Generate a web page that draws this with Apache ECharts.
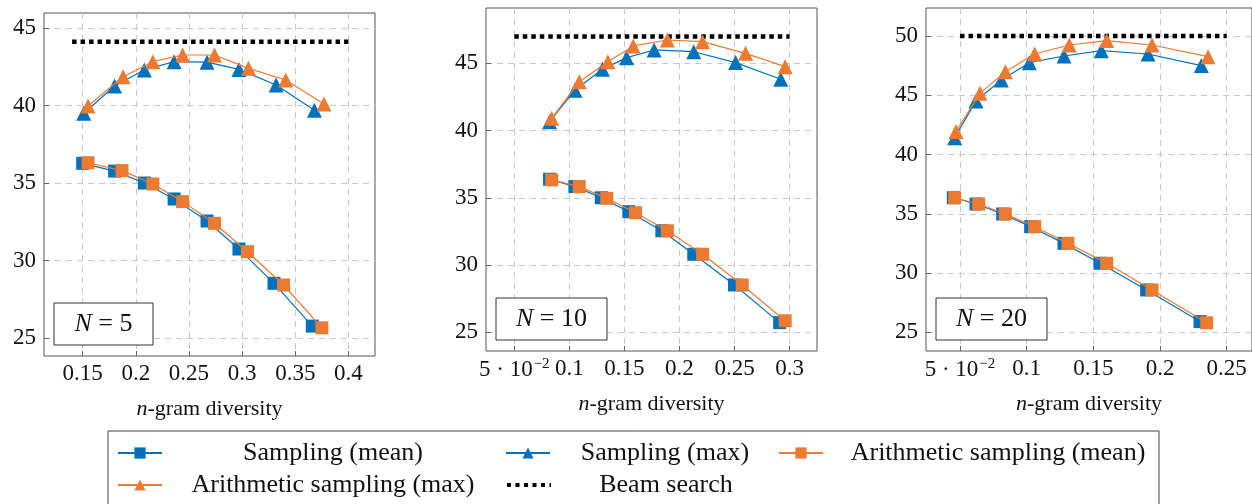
<!DOCTYPE html>
<html>
<head>
<meta charset="utf-8">
<script src="https://cdn.jsdelivr.net/npm/echarts@6/dist/echarts.min.js"></script>
<style>
  html, body { margin: 0; padding: 0; background: #fff; }
  #main { width: 1252px; height: 504px; }
</style>
</head>
<body>
<div id="main"></div>
<script>
// values: [n-gram diversity, score]
const n5SampMean = [[0.150, 36.27], [0.180, 35.77], [0.208, 35.0], [0.236, 33.97], [0.267, 32.55], [0.297, 30.74], [0.330, 28.53], [0.366, 25.77]];
const n5SampMax = [[0.151, 39.5], [0.180, 41.26], [0.208, 42.29], [0.236, 42.83], [0.267, 42.8], [0.297, 42.33], [0.332, 41.32], [0.368, 39.7]];
const n5ArithMean = [[0.155, 36.31], [0.187, 35.8], [0.216, 34.94], [0.244, 33.8], [0.274, 32.4], [0.305, 30.57], [0.339, 28.42], [0.375, 25.66]];
const n5ArithMax = [[0.155, 39.97], [0.188, 41.86], [0.216, 42.83], [0.244, 43.26], [0.274, 43.26], [0.306, 42.4], [0.341, 41.65], [0.377, 40.1]];
const n5Beam = [[0.14, 44.12], [0.4, 44.12]];

const n10SampMean = [[0.082, 36.38], [0.105, 35.83], [0.129, 35.0], [0.154, 33.97], [0.184, 32.55], [0.213, 30.8], [0.250, 28.52], [0.291, 25.72]];
const n10SampMax = [[0.082, 40.66], [0.105, 43.0], [0.130, 44.55], [0.152, 45.42], [0.177, 45.99], [0.213, 45.86], [0.251, 45.05], [0.292, 43.81]];
const n10ArithMean = [[0.084, 36.33], [0.109, 35.83], [0.134, 34.96], [0.160, 33.89], [0.189, 32.55], [0.221, 30.8], [0.257, 28.52], [0.296, 25.86]];
const n10ArithMax = [[0.084, 40.91], [0.109, 43.63], [0.135, 45.12], [0.158, 46.29], [0.189, 46.73], [0.221, 46.61], [0.260, 45.74], [0.296, 44.75]];
const n10Beam = [[0.05, 47.0], [0.3, 47.0]];

const n20SampMean = [[0.045, 36.35], [0.062, 35.82], [0.082, 34.98], [0.103, 33.91], [0.128, 32.5], [0.155, 30.82], [0.190, 28.57], [0.230, 25.9]];
const n20SampMax = [[0.046, 41.42], [0.062, 44.51], [0.081, 46.29], [0.102, 47.75], [0.128, 48.31], [0.156, 48.76], [0.191, 48.48], [0.231, 47.5]];
const n20ArithMean = [[0.046, 36.35], [0.064, 35.82], [0.084, 34.98], [0.106, 33.91], [0.131, 32.5], [0.160, 30.82], [0.194, 28.57], [0.235, 25.8]];
const n20ArithMax = [[0.047, 41.93], [0.065, 45.16], [0.084, 46.99], [0.106, 48.48], [0.132, 49.24], [0.160, 49.61], [0.194, 49.24], [0.236, 48.25]];
const n20Beam = [[0.05, 50.0], [0.25, 50.0]];

// tick labels
const n5XTicks = [0.15, 0.2, 0.25, 0.3, 0.35, 0.4];
const n10XTicks = [0.05, 0.1, 0.15, 0.2, 0.25, 0.3];
const n20XTicks = [0.05, 0.1, 0.15, 0.2, 0.25];
const n5YTicks = [25, 30, 35, 40, 45];
const n10YTicks = [25, 30, 35, 40, 45];
const n20YTicks = [25, 30, 35, 40, 45, 50];

const panelNames = ['5', '10', '20'];
const seriesNames = ['Sampling (mean)', 'Sampling (max)', 'Arithmetic sampling (mean)', 'Arithmetic sampling (max)', 'Beam search'];

const BLUE = '#0072BD';
const ORANGE = '#EC7A31';
const FONT = 'Liberation Serif';

const panels = [
  { grid: { left: 44, top: 13, width: 331, height: 343 }, x: [0.1136, 0.425], y: [23.84, 45.97],
    xt: n5XTicks, yt: n5YTicks, data: [n5SampMean, n5SampMax, n5ArithMean, n5ArithMax, n5Beam],
    box: [54, 303, 99, 42] },
  { grid: { left: 486, top: 8, width: 331, height: 343 }, x: [0.0243, 0.3249], y: [23.61, 49.11],
    xt: n10XTicks, yt: n10YTicks, data: [n10SampMean, n10SampMax, n10ArithMean, n10ArithMax, n10Beam],
    box: [496, 298, 111, 42] },
  { grid: { left: 926, top: 8, width: 330, height: 343 }, x: [0.0245, 0.269], y: [23.42, 52.36],
    xt: n20XTicks, yt: n20YTicks, data: [n20SampMean, n20SampMax, n20ArithMean, n20ArithMax, n20Beam],
    box: [936, 298, 111, 42] }
];

const grids = [], xAxes = [], yAxes = [], series = [], graphics = [];

const xFmt = v => Math.abs(v - 0.05) < 1e-9 ? '5 · 10{sup|−2}' : String(+v.toFixed(3));

panels.forEach((p, i) => {
  grids.push(Object.assign({ show: true, borderColor: '#555', borderWidth: 1, backgroundColor: 'transparent' }, p.grid));
  xAxes.push({
    type: 'value', gridIndex: i, min: p.x[0], max: p.x[1],
    name: '{i|n}-gram diversity', nameLocation: 'middle', nameGap: 42,
    nameTextStyle: { fontFamily: FONT, fontSize: 22, color: '#111',
      rich: { i: { fontFamily: FONT, fontSize: 22, fontStyle: 'italic', color: '#111' } } },
    axisLine: { show: false },
    axisTick: { inside: true, length: 5, lineStyle: { color: '#666' }, customValues: p.xt },
    axisLabel: { customValues: p.xt, formatter: xFmt, margin: 6, fontFamily: FONT, fontSize: 23, color: '#111',
      rich: { sup: { fontFamily: FONT, fontSize: 15, verticalAlign: 'top', padding: [0, 0, 10, 1], color: '#111' } } },
    splitLine: { show: true, lineStyle: { color: '#c8c8c8', width: 1, type: [6, 5] } }
  });
  yAxes.push({
    type: 'value', gridIndex: i, min: p.y[0], max: p.y[1],
    axisLine: { show: false },
    axisTick: { inside: true, length: 5, lineStyle: { color: '#666' }, customValues: p.yt },
    axisLabel: { customValues: p.yt, margin: 8, fontFamily: FONT, fontSize: 23, color: '#111' },
    splitLine: { show: true, lineStyle: { color: '#c8c8c8', width: 1, type: [6, 5] } }
  });
  const styles = [
    { color: BLUE, symbol: 'rect', size: 13 },
    { color: BLUE, symbol: 'triangle', size: 15 },
    { color: ORANGE, symbol: 'rect', size: 13 },
    { color: ORANGE, symbol: 'triangle', size: 15 }
  ];
  styles.forEach((s, k) => {
    series.push({
      name: seriesNames[k], type: 'line', xAxisIndex: i, yAxisIndex: i,
      data: p.data[k], symbol: s.symbol, symbolSize: s.size, showSymbol: true,
      lineStyle: { color: s.color, width: 1.2 }, itemStyle: { color: s.color },
      emphasis: { disabled: true }, z: 2 + k
    });
  });
  series.push({
    name: seriesNames[4], type: 'line', xAxisIndex: i, yAxisIndex: i,
    data: p.data[4], symbol: 'none',
    lineStyle: { color: '#000', width: 4.5, type: [4.5, 4], cap: 'butt' },
    itemStyle: { color: '#000' }, emphasis: { disabled: true }, z: 1
  });
  const b = p.box;
  graphics.push({
    type: 'rect', shape: { x: b[0], y: b[1], width: b[2], height: b[3] },
    style: { fill: '#fff', stroke: '#333', lineWidth: 1 }, z: 10
  });
  graphics.push({
    type: 'text', x: b[0] + b[2] / 2, y: b[1] + b[3] / 2, z: 11,
    style: {
      text: '{i|N} = ' + panelNames[i],
      align: 'center', verticalAlign: 'middle',
      fontFamily: FONT, fontSize: 26, fill: '#111',
      rich: { i: { fontFamily: FONT, fontSize: 26, fontStyle: 'italic', fill: '#111' } }
    }
  });
});

// legend frame
graphics.push({
  type: 'rect', shape: { x: 108, y: 431, width: 1051, height: 80 },
  style: { fill: '#fff', stroke: '#444', lineWidth: 1 }, z: 0
});

const legendSlots = [
  { name: seriesNames[0], left: 117, top: 440, w: 332 },
  { name: seriesNames[1], left: 505, top: 440, w: 220 },
  { name: seriesNames[2], left: 778, top: 440, w: 340 },
  { name: seriesNames[3], left: 117, top: 472, w: 332 },
  { name: seriesNames[4], left: 505, top: 472, w: 220, dotted: true }
];
const legends = legendSlots.map(s => ({
  data: [s.dotted
    ? { name: s.name, itemStyle: { opacity: 0 }, lineStyle: { width: 4, type: [4, 4.5], cap: 'butt', color: '#000' } }
    : s.name],
  left: s.left, top: s.top, padding: 0,
  itemWidth: 44, itemHeight: 14, selectedMode: false, z: 5,
  formatter: n => '{t|' + n + '}',
  textStyle: { fontFamily: FONT, fontSize: 26, color: '#111',
    rich: { t: { width: s.w, align: 'center', fontFamily: FONT, fontSize: 26, lineHeight: 34, color: '#111' } } }
}));

const chart = echarts.init(document.getElementById('main'), null, { renderer: 'canvas' });
chart.setOption({
  animation: false,
  backgroundColor: '#fff',
  grid: grids,
  xAxis: xAxes,
  yAxis: yAxes,
  legend: legends,
  graphic: graphics,
  series: series
});
</script>
</body>
</html>
